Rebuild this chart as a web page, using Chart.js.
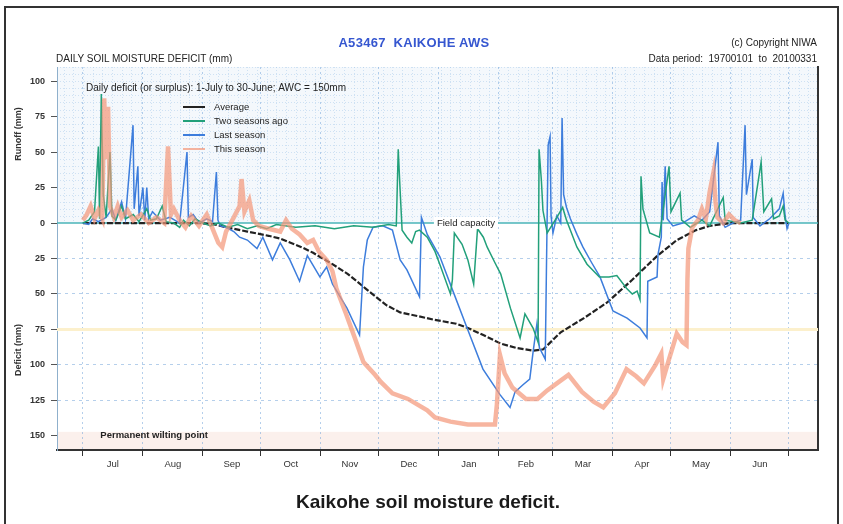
<!DOCTYPE html>
<html>
<head>
<meta charset="utf-8">
<script src="https://cdn.jsdelivr.net/npm/chart.js@4.4.0/dist/chart.umd.min.js"></script>
<style>
body{margin:0;background:#fff;width:843px;height:524px;overflow:hidden;position:relative;font-family:"Liberation Sans",Arial,sans-serif}
#frame{position:absolute;left:4px;top:6px;width:835px;height:540px;border:2px solid #333;box-sizing:border-box}
canvas{position:absolute;left:0;top:0}
.txt{position:absolute;white-space:nowrap;color:#222;line-height:1}
.rot{position:absolute;white-space:nowrap;color:#333;font-size:9px;font-weight:bold;line-height:1;transform:translate(-50%,-50%) rotate(-90deg)}
</style>
</head>
<body>
<div id="frame"></div>
<canvas id="graf" width="843" height="524"></canvas>

<div class="txt" style="left:300px;width:228px;top:36px;text-align:center;font-size:13px;font-weight:bold;letter-spacing:0.3px;color:#3657d0">A53467&nbsp; KAIKOHE AWS</div>
<div class="txt" style="left:56px;top:54px;font-size:10px">DAILY SOIL MOISTURE DEFICIT (mm)</div>
<div class="txt" style="right:26px;top:38px;font-size:10px;text-align:right">(c) Copyright NIWA</div>
<div class="txt" style="right:26px;top:54px;font-size:10px;text-align:right">Data period:&nbsp; 19700101&nbsp; to&nbsp; 20100331</div>
<div class="rot" style="left:18px;top:134px">Runoff (mm)</div>
<div class="rot" style="left:18px;top:350px">Deficit (mm)</div>
<div class="txt" style="left:228px;width:400px;top:492px;text-align:center;font-family:'Liberation Sans Narrow','Liberation Sans',sans-serif;font-size:19px;font-weight:bold;color:#1a1a1a">Kaikohe soil moisture deficit.</div>

<script>
// mesi della stagione (1 luglio -> 30 giugno), x = giorno della stagione
const monthLabels = ['Jul','Aug','Sep','Oct','Nov','Dec','Jan','Feb','Mar','Apr','May','Jun'];
const monthStarts = [0,31,62,92,123,153,184,215,243,274,304,335,365];
const yTicks = [100,75,50,25,0,-25,-50,-75,-100,-125,-150];

// [giorno, mm]  (positivo = runoff, negativo = deficit)
const average = [[0,0],[60,0],[68,-1],[74,-3],[85,-6],[96,-9],[102,-11],[113,-17],[119,-21],[129,-29],[137,-36],[146,-46],[157,-58],[164,-63],[171,-65],[181,-68],[193,-71],[199,-74],[207,-79],[216,-85],[224,-88],[233,-90],[238,-89],[247,-77],[259,-67],[271,-56],[284,-40],[297,-23],[307,-12],[317,-5],[324,-2],[335,0],[365,0]];

const thisSeason = [[0,2],[2,6],[4,12],[6,3],[8,9],[10,3],[11,88],[12,45],[13,82],[14,12],[16,4],[18,12],[20,4],[23,9],[26,2],[30,6],[34,0],[38,4],[42,0],[44,54],[45.5,6],[47,10],[50,2],[53,-3],[56,5],[60,-2],[64,6],[67,-4],[70,-14],[72,-17],[74,-6],[78,4],[81,12],[82,31],[83.5,8],[86,16],[88,2],[91,-2],[96,-4],[102,-6],[105,2],[108,-4],[112,-8],[116,-14],[119,-12],[122,-20],[126,-26],[129,-34],[131,-46],[136,-64],[140,-79],[145,-98],[151,-107],[154,-112],[160,-120],[168,-124],[178,-132],[182,-137],[190,-140],[199,-142],[213,-142],[214,-128],[215.6,-93],[218,-106],[222,-116],[229,-124],[235,-124],[240,-118],[245,-113],[251,-107],[258,-119],[264,-126],[269,-130],[275,-120],[281,-103],[286,-108],[290,-113],[296,-100],[299,-92],[300,-110],[303,-96],[307,-78],[310,-84],[312,-86],[312.5,-40],[313,-18],[315,-3],[318,2],[320,10],[322,3],[324,22],[326,36],[327,15],[328,4],[331,0],[334,6],[337,2],[340,0]];

const twoSeasonsAgo = [[0,0],[3,2],[6,8],[8,54],[8.6,3],[9.5,91],[10.5,20],[12,4],[14,50],[15,5],[17,2],[20,12],[22,3],[26,6],[29,1],[33,10],[35,2],[38,3],[41,12],[43,1],[47,0],[50,-3],[52,2],[55,-2],[58,3],[62,0],[66,-2],[70,0],[75,-3],[80,-1],[85,-4],[90,-2],[95,-4],[100,-1],[110,-3],[120,-2],[130,-4],[140,-2],[150,-3],[158,-1],[162,-2],[163,52],[163.8,28],[165,-5],[167.5,-10],[170,-14],[172,-6],[174,-5],[178,-10],[182,-20],[185,-31],[190,-50],[191,-40],[192,-7],[196,-15],[199,-26],[202,-43],[204,-4],[207,-10],[209,-17],[213,-28],[216,-36],[221,-60],[226,-81],[228.5,-64],[232.7,-74],[235.3,-84],[235.8,52],[237,30],[237.8,9],[240,-7],[245,4],[248,11],[250,2],[255.4,-17],[260.6,-29],[267,-38],[272,-38],[276,-37],[281,-46],[284,-50],[286.5,-48],[288,-54],[288.5,33],[289.5,10],[293,-7],[298,-10],[303,40],[304,8],[308.7,21],[309.5,2],[314,-3],[320,2],[324,-2],[331,18],[332,2],[340,0],[346,2],[350.6,43],[352,8],[356,17],[357,3],[360,5],[362,12],[363,2],[365,0]];

const lastSeason = [[0,0],[3,-1],[5,3],[8,1],[12,4],[15,10],[17,2],[20,15],[22,3],[25.9,69],[26.5,10],[28.4,40],[29,5],[31,25],[32,2],[33,25],[34,3],[36,8],[40,2],[45,4],[50,0],[53.8,50],[54.5,4],[57,6],[60,0],[64,3],[67,1],[69,36],[69.8,2],[71,-2],[74,-3],[78,-6],[81,-10],[85,-12],[90,-18],[93,-10],[98,-26],[102,-14],[107,-26],[112,-41],[116,-23],[122.5,-38],[126,-31],[129,-43],[136.5,-60],[143,-79],[145,-31],[147,-12],[150,-3],[155,-2],[160,-5],[164,-26],[167.5,-33],[174,-52],[175,4],[178,-8],[184.6,-24],[191.3,-48],[198.6,-74],[206.8,-103],[215.6,-121],[220.8,-130],[223.4,-119],[227.5,-114],[231,-110],[232.7,-91],[234.7,-71],[236,-88],[239,-96],[239.6,-34],[240.5,55],[241.5,61],[242,5],[243,-7],[245,5],[247,0],[247.7,74],[248.5,20],[250,11],[252,3],[255.4,-8],[258.5,-17],[263,-28],[267.3,-38],[274,-62],[281.3,-67],[288,-74],[291.6,-81],[292,-41],[296.8,-38],[297.3,-22],[299,-10],[299.4,29],[300,2],[301,40],[302,3],[305,-2],[310,0],[316,5],[320,2],[324,8],[328.3,57],[329,5],[332,-3],[336,0],[340,2],[342.3,69],[343,20],[346,45],[346.5,4],[350,-2],[355,3],[360,10],[362,21],[363,5],[364,-4],[365,0]];

const gridBlue = 'rgba(120,168,218,0.55)';
const toPunti = arr => arr.map(p => ({x: p[0], y: p[1]}));

const decor = {
    id: 'decor',
    beforeDraw(chart){
        const {ctx, chartArea: a, scales: {x, y}} = chart;
        const y0 = y.getPixelForValue(0);
        ctx.save();
        ctx.fillStyle = '#f4f8fc';
        ctx.fillRect(a.left, a.top, a.width, y0 - a.top);
        ctx.strokeStyle = 'rgba(160,198,232,0.45)';
        ctx.lineWidth = 1;
        ctx.setLineDash([1,2]);
        for (let v = 5; v <= y.max; v += 5){
            let py = Math.round(y.getPixelForValue(v)) + 0.5;
            ctx.beginPath(); ctx.moveTo(a.left, py); ctx.lineTo(a.right, py); ctx.stroke();
        }
        for (let d = -10; d <= x.max; d += 5){
            let px = Math.round(x.getPixelForValue(d)) + 0.5;
            ctx.beginPath(); ctx.moveTo(px, a.top); ctx.lineTo(px, y0); ctx.stroke();
        }
        ctx.setLineDash([]);
        const yw = y.getPixelForValue(-150);
        ctx.fillStyle = '#fbf0ec';
        ctx.fillRect(a.left, yw - 4, a.width, a.bottom - yw + 4);
        ctx.restore();
    },
    beforeDatasetsDraw(chart){
        const {ctx, chartArea: a, scales: {y}} = chart;
        ctx.save();
        ctx.lineWidth = 3;
        ctx.strokeStyle = '#fcf0cc';
        let py = y.getPixelForValue(-75);
        ctx.beginPath(); ctx.moveTo(a.left, py); ctx.lineTo(a.right, py); ctx.stroke();
        ctx.lineWidth = 1.5;
        ctx.strokeStyle = '#4ab5b8';
        py = y.getPixelForValue(0);
        ctx.beginPath(); ctx.moveTo(a.left, py); ctx.lineTo(a.right, py); ctx.stroke();
        ctx.restore();
    },
    afterDatasetsDraw(chart){
        const {ctx, chartArea: a, scales: {x, y}} = chart;
        ctx.save();
        ctx.textBaseline = 'middle';
        ctx.fillStyle = '#222';
        ctx.font = '10px "Liberation Sans", Arial';
        ctx.fillText('Daily deficit (or surplus): 1-July to 30-June; AWC = 150mm', a.left + 29, a.top + 21);

        // legenda
        const ordine = [3, 1, 2, 0];
        ctx.font = '9.5px "Liberation Sans", Arial';
        ordine.forEach((k, i) => {
            const ds = chart.data.datasets[k];
            const ly = a.top + 40 + i * 14;
            ctx.strokeStyle = ds.borderColor;
            ctx.lineWidth = 2;
            ctx.beginPath(); ctx.moveTo(a.left + 126, ly); ctx.lineTo(a.left + 148, ly); ctx.stroke();
            ctx.fillStyle = '#222';
            ctx.fillText(ds.label, a.left + 157, ly);
        });

        // field capacity
        let fx = x.getPixelForValue(183), fy = y.getPixelForValue(0);
        ctx.font = '9.5px "Liberation Sans", Arial';
        let w = ctx.measureText('Field capacity').width;
        ctx.fillStyle = '#fff';
        ctx.fillRect(fx - 3, fy - 6, w + 6, 12);
        ctx.fillStyle = '#222';
        ctx.fillText('Field capacity', fx, fy);

        // permanent wilting point
        ctx.font = 'bold 9.5px "Liberation Sans", Arial';
        ctx.fillText('Permanent wilting point', x.getPixelForValue(9), y.getPixelForValue(-150));
        ctx.restore();
    }
};

window.onload = () => {
    const canvas = document.getElementById('graf');
    const mids = monthLabels.map((m, i) => (monthStarts[i] + monthStarts[i + 1]) / 2);

    new Chart(canvas, {
        type: 'line',
        data: {
            datasets: [
                {label: 'This season', data: toPunti(thisSeason), borderColor: 'rgba(244,150,120,0.7)', borderWidth: 4.5},
                {label: 'Two seasons ago', data: toPunti(twoSeasonsAgo), borderColor: '#22a07a', borderWidth: 1.5},
                {label: 'Last season', data: toPunti(lastSeason), borderColor: '#3d7ddc', borderWidth: 1.5},
                {label: 'Average', data: toPunti(average), borderColor: '#222', borderWidth: 2.2, borderDash: [6, 2]}
            ]
        },
        options: {
            responsive: false,
            animation: false,
            devicePixelRatio: 1,
            parsing: false,
            elements: {point: {radius: 0}, line: {tension: 0, fill: false}},
            layout: {padding: {left: 27, right: 25, top: 67, bottom: 46}},
            plugins: {legend: {display: false}, tooltip: {enabled: false}},
            scales: {
                x: {
                    type: 'linear', position: 'bottom', min: -13.4, max: 380, weight: 0,
                    afterBuildTicks: s => { s.ticks = monthStarts.map(v => ({value: v})); },
                    afterFit: s => { s.height = 7; },
                    ticks: {display: false},
                    grid: {color: gridBlue, tickColor: '#333', tickLength: 6},
                    border: {color: '#333', width: 2, dash: [2, 3]}
                },
                x2: {
                    type: 'linear', position: 'bottom', min: -13.4, max: 380, weight: 1,
                    afterBuildTicks: s => { s.ticks = mids.map(v => ({value: v})); },
                    afterFit: s => { s.height = 21; },
                    ticks: {callback: (v, i) => monthLabels[i], autoSkip: false, maxRotation: 0, padding: 2,
                            color: '#333', font: {size: 9.5, family: '"Liberation Sans", Arial'}},
                    grid: {display: false, drawTicks: false, tickLength: 0},
                    border: {display: false}
                },
                y: {
                    type: 'linear', position: 'left', min: -160, max: 110,
                    afterBuildTicks: s => { s.ticks = yTicks.map(v => ({value: v})); },
                    afterFit: s => { s.width = 30; },
                    ticks: {callback: v => Math.abs(v), padding: 6, color: '#333',
                            font: {size: 9, weight: 'bold', family: '"Liberation Sans", Arial'}},
                    grid: {
                        color: c => [-25, -50, -100, -125].includes(c.tick.value) ? gridBlue : 'transparent',
                        tickColor: '#555', tickLength: 6
                    },
                    border: {color: '#8fb0cc', width: 1, dash: [3, 4]}
                },
                y2: {
                    type: 'linear', position: 'right', min: -160, max: 110,
                    afterFit: s => { s.width = 0; },
                    ticks: {display: false},
                    grid: {display: false},
                    border: {color: '#333', width: 2}
                }
            }
        },
        plugins: [decor]
    });
};
</script>
</body>
</html>
